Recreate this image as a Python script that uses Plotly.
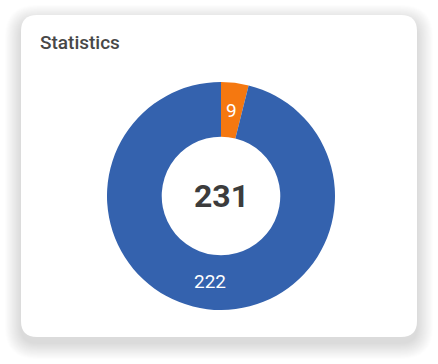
import math
import plotly.graph_objects as go

# data
labels = ["Orange", "Blue"]
values = [9, 222]
colors = ["#F57810", "#3462AE"]
title_text = "Statistics"

W, H = 438, 364

def px_x(x):
    return x / W

def px_y(y):
    return 1 - y / H

def rrect(x0, y0, x1, y1, r):
    p = []
    p.append(f"M {px_x(x0 + r)},{px_y(y0)}")
    p.append(f"L {px_x(x1 - r)},{px_y(y0)}")
    p.append(f"Q {px_x(x1)},{px_y(y0)} {px_x(x1)},{px_y(y0 + r)}")
    p.append(f"L {px_x(x1)},{px_y(y1 - r)}")
    p.append(f"Q {px_x(x1)},{px_y(y1)} {px_x(x1 - r)},{px_y(y1)}")
    p.append(f"L {px_x(x0 + r)},{px_y(y1)}")
    p.append(f"Q {px_x(x0)},{px_y(y1)} {px_x(x0)},{px_y(y1 - r)}")
    p.append(f"L {px_x(x0)},{px_y(y0 + r)}")
    p.append(f"Q {px_x(x0)},{px_y(y0)} {px_x(x0 + r)},{px_y(y0)}")
    p.append("Z")
    return " ".join(p)

shapes = []
# soft shadow layers
for i in range(18, 0, -1):
    g = i * 0.9
    shapes.append(dict(type="path", xref="paper", yref="paper",
                       path=rrect(21 - g, 15 - g + 6, 417 + g, 337 + g + 6, 16 + g),
                       fillcolor="rgba(0,0,0,0.0065)", line=dict(width=0), layer="below"))
# card
shapes.append(dict(type="path", xref="paper", yref="paper",
                   path=rrect(21, 15, 417, 337, 16),
                   fillcolor="#FFFFFF", line=dict(width=0), layer="below"))

cx, cy, R = 221, 196, 114
hole = 0.52

fig = go.Figure(go.Pie(
    labels=labels, values=values,
    marker=dict(colors=colors, line=dict(width=0)),
    hole=hole, sort=False, direction="clockwise", rotation=0,
    textinfo="none",
    hoverinfo="none", showlegend=False,
    domain=dict(x=[px_x(cx - R), px_x(cx + R)], y=[px_y(cy + R), px_y(cy - R)]),
))

# slice value labels at mid-ring, derived from the data
total = sum(values)
rmid = R * (1 + hole) / 2
annotations = []
cum = 0
for v in values:
    ang = (cum + v / 2) / total * 2 * math.pi  # clockwise from 12 o'clock
    cum += v
    lx = cx + rmid * math.sin(ang)
    ly = cy - rmid * math.cos(ang)
    annotations.append(dict(text=str(v), x=px_x(lx), y=px_y(ly), xref="paper", yref="paper",
                            xanchor="center", yanchor="middle", showarrow=False,
                            font=dict(family="Roboto", size=19, color="#FFFFFF")))

annotations += [
    dict(text=title_text, x=px_x(38), y=px_y(42), xref="paper", yref="paper",
         xanchor="left", yanchor="middle", showarrow=False,
         font=dict(family="Roboto", size=19, color="#484848", weight=500)),
    dict(text=f"<b>{total}</b>", x=px_x(cx), y=px_y(cy), xref="paper", yref="paper",
         xanchor="center", yanchor="middle", showarrow=False,
         font=dict(family="Roboto", size=32, color="#3C3C3C")),
]

fig.update_layout(
    width=W, height=H,
    margin=dict(l=0, r=0, t=0, b=0),
    paper_bgcolor="#FFFFFF", plot_bgcolor="#FFFFFF",
    shapes=shapes,
    annotations=annotations,
)

fig.write_html("out.html", config={"displayModeBar": False},
               post_script="document.body.style.margin='0';document.body.style.overflow='hidden';")
